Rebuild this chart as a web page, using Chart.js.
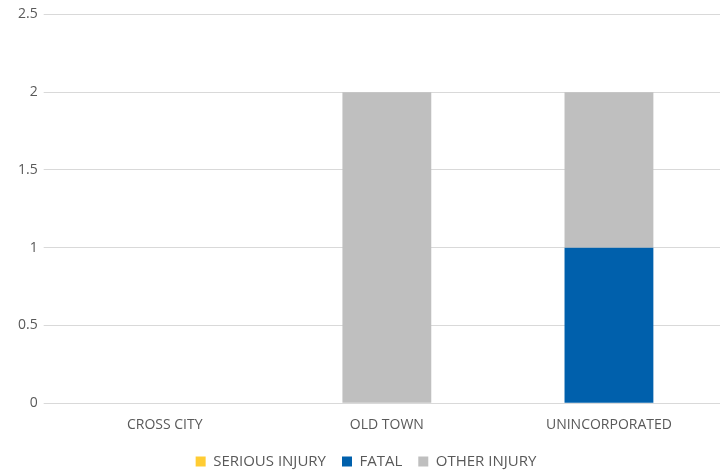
<!DOCTYPE html>
<html>
<head>
<meta charset="utf-8">
<script src="https://cdn.jsdelivr.net/npm/chart.js@4/dist/chart.umd.min.js"></script>
<style>
  html, body { margin: 0; padding: 0; background: #fff; }
  #wrap { width: 720px; height: 470px; position: relative; }
</style>
</head>
<body>
<div id="wrap"><canvas id="injuryChart"></canvas></div>
<script>
var areas = ['CROSS CITY', 'OLD TOWN', 'UNINCORPORATED'];
var seriousInjury = [0, 0, 0];
var fatal = [0, 0, 1];
var otherInjury = [0, 2, 1];

var txtColor = '#595959';
var fontFam = '"Open Sans", "Liberation Sans", sans-serif';

var chart = new Chart(document.getElementById('injuryChart'), {
    type: 'bar',
    data: {
        labels: areas,
        datasets: [
            { label: 'SERIOUS INJURY', data: seriousInjury, backgroundColor: '#FFCC33' },
            { label: 'FATAL', data: fatal, backgroundColor: '#0060AC' },
            { label: 'OTHER INJURY', data: otherInjury, backgroundColor: '#BFBFBF' }
        ]
    },
    options: {
        responsive: true,
        maintainAspectRatio: false,
        animation: false,
        layout: { padding: { top: 11, right: 0, left: 12, bottom: -9 } },
        datasets: { bar: { barPercentage: 0.4, categoryPercentage: 1.0 } },
        plugins: {
            title: { display: false },
            tooltip: { enabled: false },
            legend: {
                position: 'bottom',
                labels: {
                    boxWidth: 10,
                    boxHeight: 10,
                    padding: 16,
                    color: txtColor,
                    font: { family: fontFam, size: 15 }
                }
            }
        },
        scales: {
            x: {
                stacked: true,
                grid: { display: false },
                border: { display: false },
                ticks: { color: txtColor, font: { family: fontFam, size: 14 }, padding: 5 }
            },
            y: {
                stacked: true,
                min: 0,
                max: 2.5,
                ticks: {
                    stepSize: 0.5,
                    color: txtColor,
                    font: { family: fontFam, size: 14 },
                    padding: 6,
                    callback: function(v) { return String(v); }
                },
                grid: { color: '#D9D9D9', lineWidth: 1, tickLength: 10, tickColor: '#D9D9D9' },
                border: { display: false }
            }
        }
    }
});
</script>
</body>
</html>
